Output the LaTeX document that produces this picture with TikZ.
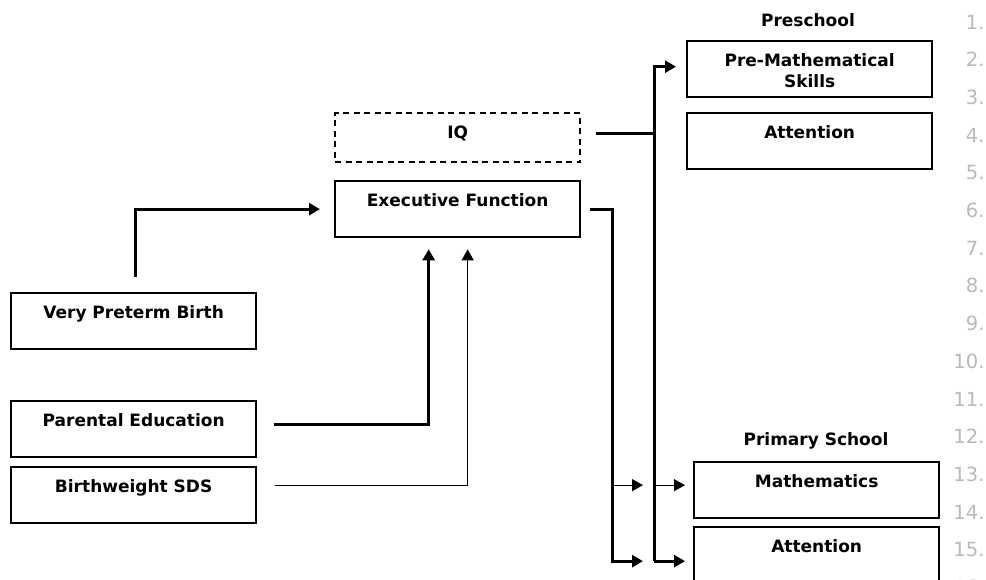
\documentclass[tikz,border=0pt]{standalone}
\usepackage{fontspec}
\setmainfont{DejaVu Sans}
\usepackage{tikz}
\usetikzlibrary{arrows.meta}
\definecolor{lineNumGray}{RGB}{185,185,185}

\begin{document}
\begin{tikzpicture}[x=1pt, y=-1pt,
    box/.style={draw, line width=2.3pt, anchor=north west, minimum width=245pt,
      inner ysep=0pt, text height=25pt, text depth=31pt, align=center,
      font=\fontsize{17}{21}\selectfont\bfseries},
    heading/.style={font=\fontsize{17}{21}\selectfont\bfseries},
    heavy/.style={line width=3pt, -{Triangle[length=11pt,width=12pt]}},
    light/.style={line width=1pt, -{Triangle[length=11pt,width=12pt]}},
    linenum/.style={anchor=east, text=lineNumGray, font=\fontsize{19.5}{22}\selectfont}]
  \useasboundingbox (0,0) rectangle (986,580);

  % predictors
  \node[box] (vpb) at (10,292) {Very Preterm Birth};
  \node[box] (pe) at (10,400) {Parental Education};
  \node[box] (bw) at (10,466) {Birthweight SDS};

  % mediators
  \node[box, dash pattern=on 6pt off 4.5pt, text depth=24pt] (iq) at (334,112) {IQ};
  \node[box] (ef) at (334,180) {Executive Function};

  % outcomes
  \node[heading] (pre) at (808,20) {Preschool};
  \node[box, text height=46pt, text depth=10pt] (pm) at (686,40) {Pre-Mathematical\\Skills};
  \node[box] (att1) at (686,112) {Attention};
  \node[heading] (prim) at (816,441) {Primary School};
  \node[box] (math) at (693,461) {Mathematics};
  \node[box] (att2) at (693,526) {Attention};

  \coordinate (busA) at ([xshift=-81pt]att2.west);
  \coordinate (busB) at ([xshift=-39pt]att2.west);

  \draw[heavy] ([xshift=2pt,yshift=15pt]vpb.north) |- ([xshift=-14pt]ef.west);
  \draw[heavy] ([xshift=17pt,yshift=5pt]pe.east) -| ([xshift=-29pt,yshift=-11pt]ef.south);
  \draw[light] ([xshift=18pt,yshift=9.5pt]bw.east) -| ([xshift=10pt,yshift=-11pt]ef.south);

  \draw[heavy] ([xshift=9pt]ef.east) -| ([xshift=-81pt,yshift=-6pt]att2.west) -- ([xshift=-50pt,yshift=-6pt]att2.west);
  \draw[light] ([xshift=-81pt,yshift=5pt]math.west) -- ([xshift=-50pt,yshift=5pt]math.west);

  \draw[line width=3pt] ([xshift=15pt,yshift=4.5pt]iq.east) coordinate (iqout) -- (iqout -| busB);
  \draw[heavy] ([xshift=-39pt,yshift=-6pt]att2.west) |- ([xshift=-10pt,yshift=2.5pt]pm.west);
  \draw[heavy] ([xshift=-39pt,yshift=-6pt]att2.west) -- ([xshift=-8pt,yshift=-6pt]att2.west);
  \draw[light] ([xshift=-39pt,yshift=5pt]math.west) -- ([xshift=-8pt,yshift=5pt]math.west);

  \foreach \n in {1,...,16}
    \node[linenum] (ln\n) at (988,{22+(\n-1)*37.7}) {\n.};
\end{tikzpicture}
\end{document}
